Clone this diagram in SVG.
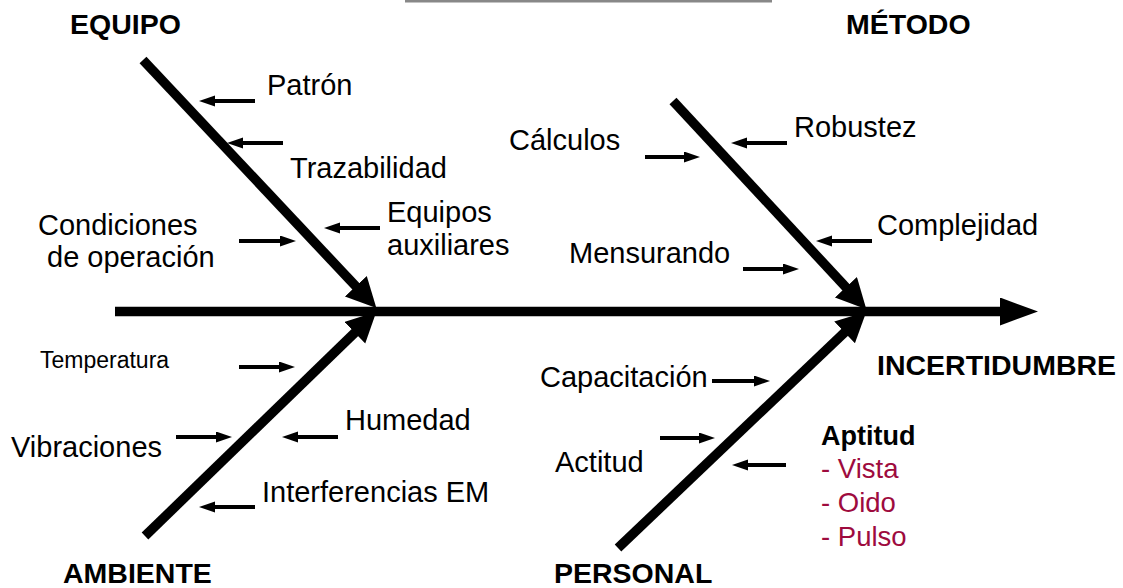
<svg xmlns="http://www.w3.org/2000/svg" width="1123" height="588" viewBox="0 0 1123 588">
<style>
text{font-family:"Liberation Sans",Arial,sans-serif;fill:#000}
.t{font-size:29px}
.s{font-size:23px}
.h{font-size:28.5px;font-weight:bold}
.b{font-size:27px;font-weight:bold}
.r{font-size:27.5px;fill:#9E0B3E}
.bone{stroke:#000;stroke-width:9.5;fill:none}
.small{stroke:#000;stroke-width:4;fill:none}
</style>
<defs>
<marker id="big" markerUnits="userSpaceOnUse" markerWidth="40" markerHeight="30" refX="0" refY="14" orient="auto"><path d="M0,0 L38,14 L0,28 Z" fill="#000"/></marker>
<marker id="bone" markerUnits="userSpaceOnUse" markerWidth="32" markerHeight="32" refX="1" refY="15" orient="auto"><path d="M0,0 L30,15 L0,30 Z" fill="#000"/></marker>
<marker id="sm" markerUnits="userSpaceOnUse" markerWidth="18" markerHeight="12" refX="1" refY="5.5" orient="auto"><path d="M0,0 L16,5.5 L0,11 Z" fill="#000"/></marker>
</defs>
<rect x="405" y="0" width="367" height="2.5" fill="#888"/>
<g id="connectors">
<line class="bone" x1="115" y1="311.5" x2="1000" y2="311.5" marker-end="url(#big)"/>
<line class="bone" x1="143" y1="60" x2="356.5" y2="287" marker-end="url(#bone)"/>
<line class="bone" x1="673" y1="101" x2="846.6" y2="288" marker-end="url(#bone)"/>
<line class="bone" x1="145" y1="536" x2="355.5" y2="332" marker-end="url(#bone)"/>
<line class="bone" x1="618" y1="548" x2="845.3" y2="331.7" marker-end="url(#bone)"/>
<line class="small" x1="255" y1="101" x2="214" y2="101" marker-end="url(#sm)"/>
<line class="small" x1="283" y1="143" x2="242" y2="143" marker-end="url(#sm)"/>
<line class="small" x1="380" y1="228" x2="339" y2="228" marker-end="url(#sm)"/>
<line class="small" x1="239" y1="241" x2="281" y2="241" marker-end="url(#sm)"/>
<line class="small" x1="645" y1="157" x2="685" y2="157" marker-end="url(#sm)"/>
<line class="small" x1="787" y1="143" x2="746" y2="143" marker-end="url(#sm)"/>
<line class="small" x1="872" y1="241" x2="831" y2="241" marker-end="url(#sm)"/>
<line class="small" x1="743" y1="269" x2="784" y2="269" marker-end="url(#sm)"/>
<line class="small" x1="239" y1="367" x2="280" y2="367" marker-end="url(#sm)"/>
<line class="small" x1="176" y1="437" x2="217" y2="437" marker-end="url(#sm)"/>
<line class="small" x1="338" y1="437" x2="297" y2="437" marker-end="url(#sm)"/>
<line class="small" x1="255" y1="507" x2="214" y2="507" marker-end="url(#sm)"/>
<line class="small" x1="712" y1="381" x2="755" y2="381" marker-end="url(#sm)"/>
<line class="small" x1="660" y1="438" x2="700" y2="438" marker-end="url(#sm)"/>
<line class="small" x1="786" y1="465" x2="747" y2="465" marker-end="url(#sm)"/>
</g>
<g id="equipo"><text class="h" x="70" y="34">EQUIPO</text></g>
<g id="metodo"><text class="h" x="846" y="34">MÉTODO</text></g>
<g id="ambiente"><text class="h" x="63" y="583">AMBIENTE</text></g>
<g id="personal"><text class="h" x="554" y="583">PERSONAL</text></g>
<g id="incertidumbre"><text class="h" x="877" y="375">INCERTIDUMBRE</text></g>
<g id="patron"><text class="t" x="267" y="95">Patrón</text></g>
<g id="trazabilidad"><text class="t" x="290" y="178">Trazabilidad</text></g>
<g id="equipos-aux"><text class="t" x="387" y="222">Equipos</text><text class="t" x="387" y="255">auxiliares</text></g>
<g id="condiciones"><text class="t" x="38" y="235">Condiciones</text><text class="t" x="47" y="267">de operación</text></g>
<g id="calculos"><text class="t" x="509" y="150">Cálculos</text></g>
<g id="robustez"><text class="t" x="794" y="137">Robustez</text></g>
<g id="complejidad"><text class="t" x="877" y="235">Complejidad</text></g>
<g id="mensurando"><text class="t" x="569" y="263">Mensurando</text></g>
<g id="temperatura"><text class="s" x="40" y="368">Temperatura</text></g>
<g id="vibraciones"><text class="t" x="11" y="457">Vibraciones</text></g>
<g id="humedad"><text class="t" x="345" y="430">Humedad</text></g>
<g id="interferencias"><text class="t" x="262" y="502">Interferencias EM</text></g>
<g id="capacitacion"><text class="t" x="540" y="387">Capacitación</text></g>
<g id="actitud"><text class="t" x="555" y="472">Actitud</text></g>
<g id="aptitud"><text class="b" x="821" y="445">Aptitud</text><text class="r" x="821" y="478">- Vista</text><text class="r" x="821" y="512">- Oido</text><text class="r" x="821" y="546">- Pulso</text></g>
</svg>
